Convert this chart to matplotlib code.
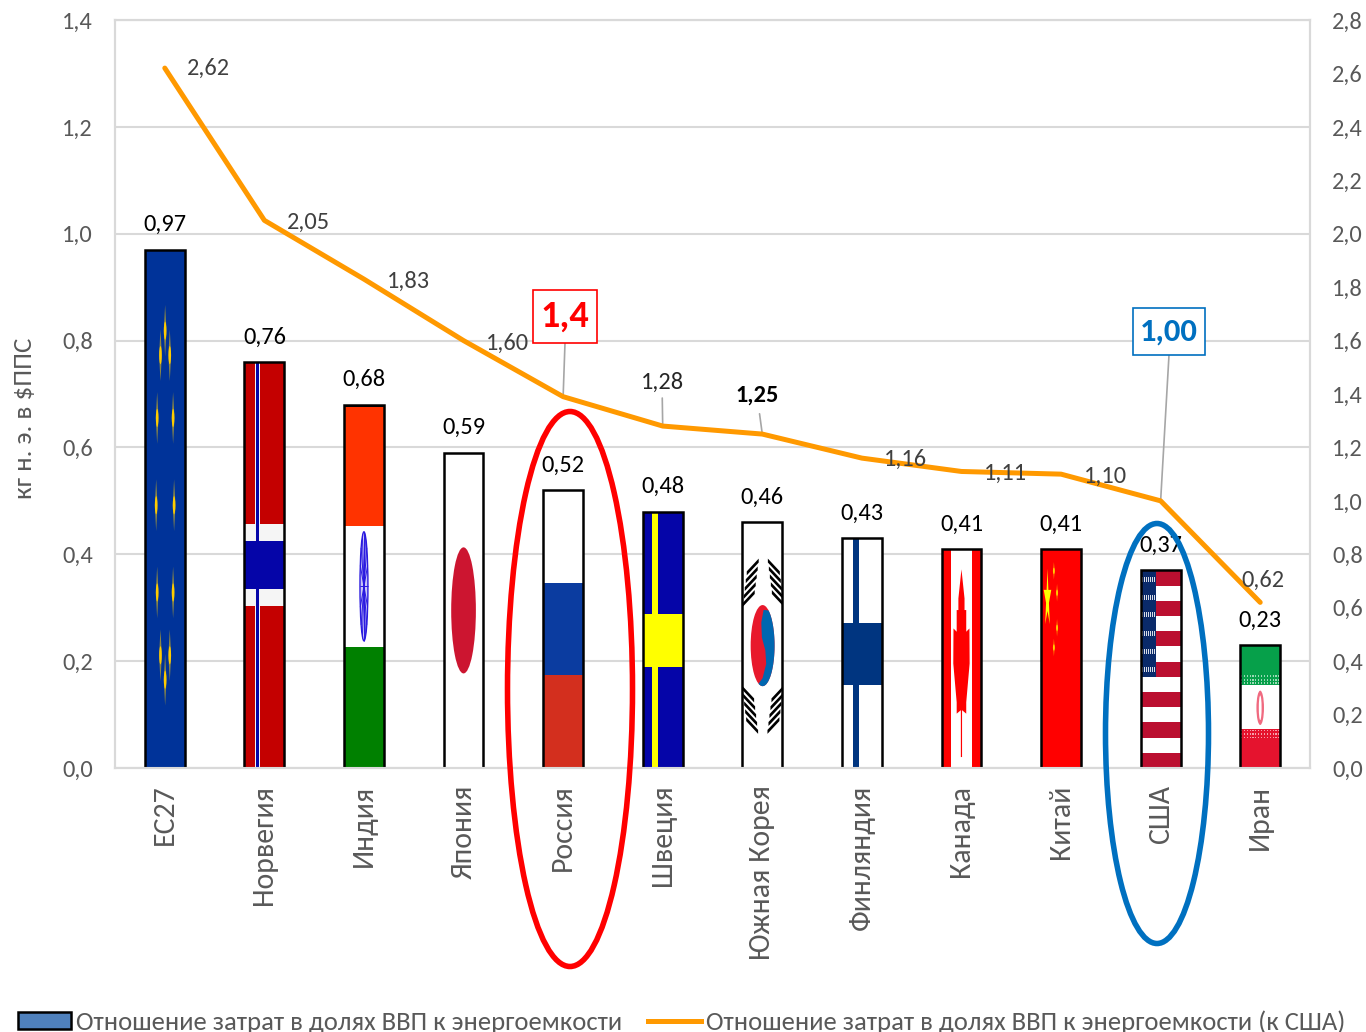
import matplotlib
matplotlib.use('Agg')
import matplotlib.pyplot as plt
import numpy as np
from matplotlib.patches import Rectangle, Ellipse, Polygon, Patch
from matplotlib.lines import Line2D
from matplotlib.ticker import FuncFormatter, MultipleLocator
from matplotlib.transforms import Affine2D

plt.rcParams['font.family'] = ['Carlito', 'Lato', 'Open Sans', 'DejaVu Sans']

names = ['ЕС27', 'Норвегия', 'Индия', 'Япония', 'Россия', 'Швеция', 'Южная Корея',
         'Финляндия', 'Канада', 'Китай', 'США', 'Иран']
ratio = [0.97, 0.76, 0.68, 0.59, 0.52, 0.48, 0.46, 0.43, 0.41, 0.41, 0.37, 0.23]
ratio_to_usa = [2.62, 2.05, 1.83, 1.60, 1.39, 1.28, 1.25, 1.16, 1.11, 1.10, 1.00, 0.62]

bar_label = 'Отношение затрат в долях ВВП к энергоемкости'
line_label = 'Отношение затрат в долях ВВП к энергоемкости (к США)'
y_label = 'кг н. э. в $ППС'

W, H = 1366, 1032
GRID = '#D9D9D9'
TEXT = '#595959'
ORANGE = '#FF9900'
RED = '#FF0000'
BLUE = '#0070C0'
FS = 17.6


def comma(v, digits=2):
    return f'{v:.{digits}f}'.replace('.', ',')


fig = plt.figure(figsize=(W / 100, H / 100), dpi=100)
ax = fig.add_axes([115 / W, 1 - 768 / H, 1195 / W, 748 / H])
ax2 = ax.twinx()
# image pixel coordinates, y going down
px = Affine2D().scale(1 / W, -1 / H).translate(0, 1) + fig.transFigure

x = np.arange(len(names))
BAR_W = 0.40

ax.set_xlim(-0.5, len(names) - 0.5)
ax.set_ylim(0, 1.4)
ax2.set_ylim(0, 2.8)
ax.yaxis.set_major_locator(MultipleLocator(0.2))
ax2.yaxis.set_major_locator(MultipleLocator(0.2))
ax.yaxis.set_major_formatter(FuncFormatter(lambda v, p: comma(v, 1)))
ax2.yaxis.set_major_formatter(FuncFormatter(lambda v, p: comma(v, 1)))
ax.grid(axis='y', color=GRID, lw=1.5)
ax.set_axisbelow(True)
for a in (ax, ax2):
    for s in a.spines.values():
        s.set_color(GRID)
        s.set_linewidth(1.5)
    a.tick_params(length=0, labelsize=FS, labelcolor=TEXT)
ax.tick_params(axis='y', pad=16)
ax2.tick_params(axis='y', pad=16)
ax.set_xticks(x)
ax.set_xticklabels(names, rotation=90, fontsize=21.5, color=TEXT)
ax.tick_params(axis='x', pad=12)
fig.text(25 / W, 1 - 418 / H, y_label, rotation=90, ha='center', va='center',
         fontsize=19.5, color=TEXT)

bars = ax.bar(x, ratio, BAR_W, color='white', zorder=2)
ax.bar(x, ratio, BAR_W, facecolor='none', edgecolor='black', lw=1.8, zorder=4)


class Flag:
    # shapes given in bar-local coordinates: u across, v up, both 0..1
    def __init__(self, i):
        self.bar = bars[i]
        self.tr = (Affine2D().scale(BAR_W, ratio[i]).translate(x[i] - BAR_W / 2, 0)
                   + ax.transData)

    def add(self, p):
        p.set_transform(self.tr)
        p.set_zorder(3)
        ax.add_patch(p)
        p.set_clip_path(self.bar)
        return p

    def rect(self, u0, v0, u1, v1, color, alpha=1):
        return self.add(Rectangle((u0, v0), u1 - u0, v1 - v0, fc=color, ec='none', alpha=alpha))

    def ell(self, u, v, w, h, color, **kw):
        return self.add(Ellipse((u, v), w, h, fc=color, ec=kw.pop('ec', 'none'), **kw))

    def poly(self, pts, color, **kw):
        return self.add(Polygon(pts, closed=True, fc=color, ec='none', **kw))


def spark(f, u, v, h, w=0.07, core='#FFCC00'):
    # stars squeezed by the narrow bar turn into thin slivers
    f.poly([(u, v + h), (u + w / 2, v), (u, v - h), (u - w / 2, v)], core, alpha=0.55)
    f.ell(u, v, w * 0.9, h * 0.7, core)


def dither(f, v0, v1):
    # the fine ornament band on the Iranian flag
    for v in np.linspace(v0 + 0.012, v1 - 0.012, 3):
        for u in np.linspace(0.03, 0.97, 14):
            f.rect(u - 0.014, v - 0.007, u + 0.014, v + 0.007, 'white', alpha=0.6)


def callout(i, text, box, color, size):
    # framed label with a leader down to the line point
    x0, y0, x1, y1 = box
    ax2.annotate('', (i, ratio_to_usa[i]), xytext=((x0 + x1) / 2, y1), textcoords=px,
                 arrowprops=dict(arrowstyle='-', color='#A6A6A6', lw=1.2, shrinkA=0, shrinkB=0))
    fig.add_artist(Rectangle((x0, y0), x1 - x0, y1 - y0, transform=px, fc='white', ec=color,
                             lw=1.2, zorder=8))
    fig.text((x0 + x1) / 2 / W, 1 - (y0 + y1) / 2 / H, text, ha='center', va='center',
             fontsize=size, color=color, fontweight='bold', zorder=9)


# ЕС27
f = Flag(0)
f.rect(0, 0, 1, 1, '#003399')
for zx, zy in [(106, 280), (92, 350), (120, 350), (82, 530), (130, 530), (79, 780),
               (133, 780), (82, 1030), (130, 1030), (92, 1210), (120, 1210), (106, 1280)]:
    spark(f, (zx - 45) / 120, 1 - (zy - 48) / 1485, 0.05)

# Норвегия
f = Flag(1)
f.rect(0, 0, 1, 1, '#C40000')
f.rect(0, 0.40, 1, 0.60, '#F5F5F5')
f.rect(0.27, 0, 0.40, 1, '#F5F5F5')
f.rect(0, 0.44, 1, 0.56, '#0505A8')
f.rect(0.30, 0, 0.37, 1, '#0505A8')

# Индия
f = Flag(2)
f.rect(0, 2 / 3, 1, 1, '#FF3300')
f.rect(0, 0, 1, 1 / 3, '#008000')
f.rect(0, 0.993, 1, 1, 'black')
f.ell(0.5, 0.5, 0.2, 0.3, '#C9C6F6', ec='#2A1AE0', lw=1)
for a in np.deg2rad(np.arange(0, 180, 22.5)):
    c, s = 0.1 * np.cos(a), 0.15 * np.sin(a)
    f.poly([(0.5 - c, 0.5 - s), (0.5 + c, 0.5 + s)], 'none', lw=0.7).set_edgecolor('#2A1AE0')

# Япония
f = Flag(3)
f.ell(0.5, 0.5, 0.62, 0.40, '#CC1530')

# Россия
f = Flag(4)
f.rect(0, 1 / 3, 1, 2 / 3, '#0B3CA0')
f.rect(0, 0, 1, 1 / 3, '#D32F1E')

# Швеция
f = Flag(5)
f.rect(0, 0, 1, 1, '#0505A8')
f.rect(0.24, 0, 0.38, 1, '#FFFF00')
f.rect(0, 0.394, 1, 0.60, '#FFFF00')

# Южная Корея
f = Flag(6)
uc, vc, ru, rv = 0.508, 0.498, 0.30, 0.165
f.ell(uc, vc, 2 * ru, 2 * rv, '#E8192C')
arc = np.deg2rad(np.linspace(60, -110, 40))
edge = [(-0.34, -0.94), (0.0, -0.80), (0.30, -0.45), (0.23, -0.12), (-0.06, 0.20),
        (-0.11, 0.57), (0.08, 0.88)]
yin = [(uc + ru * np.cos(a), vc + rv * np.sin(a)) for a in arc]
yin += [(uc + ru * a, vc + rv * b) for a, b in edge]
f.poly(yin, '#0067B0')
for u, v, slope, shift in [(0.21, 0.754, 1, 0.025), (0.84, 0.754, -1, -0.025),
                           (0.195, 0.237, -1, -0.025), (0.83, 0.237, 1, 0.025)]:
    for k in (-2, -1, 0, 1, 2):
        cu, cv = u + shift * k, v + 0.032 * k
        du, dv, t = 0.15, 0.026 * slope, 0.008
        f.poly([(cu - du, cv - dv - t), (cu + du, cv + dv - t),
                (cu + du, cv + dv + t), (cu - du, cv - dv + t)], 'black')

# Финляндия
f = Flag(7)
f.rect(0.27, 0, 0.44, 1, '#003580')
f.rect(0, 0.362, 1, 0.633, '#003580')

# Канада
f = Flag(8)
f.rect(0, 0, 0.24, 1, RED)
f.rect(0.76, 0, 1, 1, RED)
half = [(0, 0.907), (0.077, 0.774), (0.077, 0.721), (0.12, 0.721), (0.12, 0.622),
        (0.20, 0.637), (0.205, 0.477), (0.12, 0.30), (0.12, 0.248), (0.015, 0.264),
        (0.015, 0.05)]
f.poly([(0.5 + a, b) for a, b in half] + [(0.5 - a, b) for a, b in half[::-1]], RED)

# Китай
f = Flag(9)
f.rect(0, 0, 1, 1, RED)
r = np.where(np.arange(10) % 2 == 0, 1.0, 0.38)
t = np.pi / 2 + np.arange(10) * np.pi / 5
f.poly(np.c_[0.16 + 0.10 * r * np.cos(t), 0.77 + 0.14 * r * np.sin(t)], '#FFFF00')
for u, v in [(0.32, 0.90), (0.40, 0.80), (0.40, 0.64), (0.32, 0.55)]:
    spark(f, u, v, 0.04, w=0.05, core='#FFD500')

# США
f = Flag(10)
for k in range(0, 13, 2):
    f.rect(0, k / 13, 1, (k + 1) / 13, '#BB0F30')
f.rect(0, 6 / 13, 0.39, 1, '#0A2A6A')
for v in [0.952, 0.862, 0.775, 0.682, 0.59, 0.497]:
    for u in np.linspace(0.04, 0.35, 7):
        f.rect(u - 0.012, v - 0.012, u + 0.012, v + 0.012, 'white', alpha=0.85)

# Иран
f = Flag(11)
f.rect(0, 0.678, 1, 1, '#06A04A')
f.rect(0, 0, 1, 0.317, '#E5132E')
dither(f, 0.678, 0.758)
dither(f, 0.237, 0.317)
f.ell(0.5, 0.49, 0.19, 0.28, '#F06A80')
f.ell(0.5, 0.49, 0.07, 0.20, 'white')

for xi, v in zip(x, ratio):
    ax.annotate(comma(v), (xi, v), xytext=(0, 18), textcoords='offset points', ha='center',
                va='center', fontsize=FS, color='black', zorder=5)

ax2.plot(x, ratio_to_usa, color=ORANGE, lw=3.6, solid_capstyle='round',
         solid_joinstyle='round', zorder=5)

# подписи линии: смещения от точки в пикселях
line_offsets = {0: (44, 0), 1: (44, -2), 2: (44, -2), 3: (44, -3), 7: (44, -1), 8: (44, -2),
                9: (44, -2), 11: (3, 22)}
for i, (dx, dy) in line_offsets.items():
    ax2.annotate(comma(ratio_to_usa[i]), (i, ratio_to_usa[i]), xytext=(dx * 0.72, dy * 0.72),
                 textcoords='offset points', ha='center', va='center', fontsize=FS,
                 color='#404040', zorder=6)

ax2.annotate(comma(ratio_to_usa[5]), (5, ratio_to_usa[5]), xytext=(662, 382), textcoords=px,
             ha='center', va='center', fontsize=FS, color='#262626',
             arrowprops=dict(arrowstyle='-', color='#A6A6A6', lw=1.2, shrinkA=2, shrinkB=0))
ax2.annotate(comma(ratio_to_usa[6]), (6, ratio_to_usa[6]), xytext=(757, 395), textcoords=px,
             ha='center', va='center', fontsize=FS, color='black', fontweight='bold',
             arrowprops=dict(arrowstyle='-', color='#A6A6A6', lw=1.2, shrinkA=4, shrinkB=0))
callout(4, comma(ratio_to_usa[4], 1), (533, 290, 597, 343), RED, 27.5)
callout(10, comma(ratio_to_usa[10]), (1133, 308, 1205, 355), BLUE, 23.5)

# выделение России и США
fig.add_artist(Ellipse((570, 689), 125, 555, transform=px, fc='none', ec=RED, lw=4, zorder=10))
fig.add_artist(Ellipse((1157, 733.5), 103, 420, transform=px, fc='none', ec=BLUE, lw=4, zorder=10))

handles = [Patch(fc='#4F81BD', ec='black', lw=1.8), Line2D([], [], color=ORANGE, lw=3.6)]
fig.legend(handles, [bar_label, line_label], ncol=2, frameon=False, fontsize=19.15,
           labelcolor=TEXT, loc='lower left', bbox_to_anchor=(18 / W, -2 / H),
           borderpad=0, borderaxespad=0, handlelength=2.0, handletextpad=0.19,
           columnspacing=0.95, handleheight=0.57)

fig.savefig('out.png', dpi=100)
